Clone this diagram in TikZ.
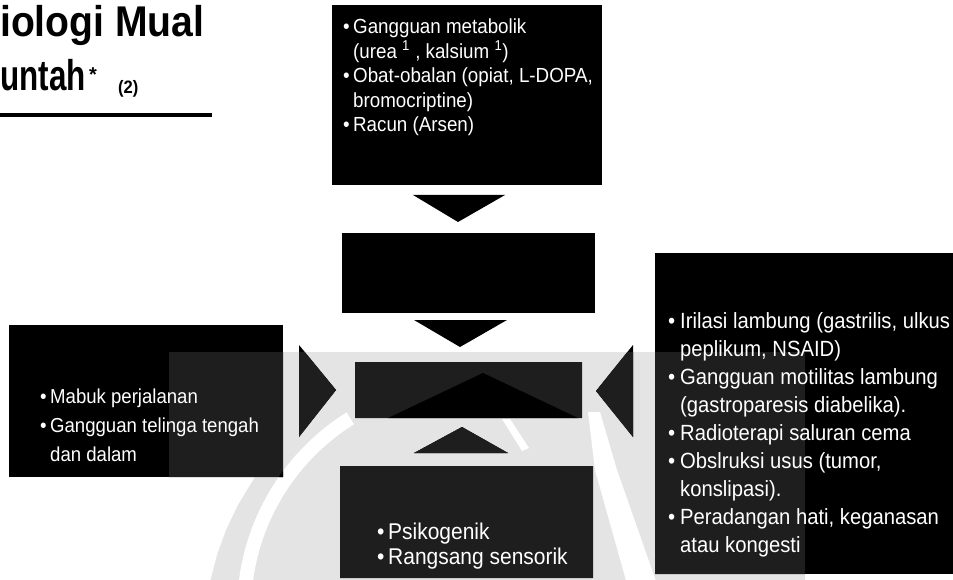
\documentclass[tikz,border=0pt]{standalone}
\usepackage{fontspec}
\setmainfont{Liberation Sans}
\newfontfamily\nar{Liberation Sans}[FakeStretch=0.92]
\usepackage{graphicx}
\definecolor{wmlight}{RGB}{228,228,228}
\definecolor{wmdark}{RGB}{30,30,30}
\newcommand\wmBase{(169,352) -- (805,352) -- (805,582) -- (210,582) -- (217,555) -- (226,530) -- (238,505) -- (255,477) -- (169,477) -- cycle}
\newcommand\wmLogo{plot[domain=185:238,samples=25] ({470+233*cos(\x)},{610+233*sin(\x)}) -- plot[domain=238:185,samples=25] ({470+219*cos(\x)},{610+219*sin(\x)}) -- cycle
 (588,412) -- (595,470) -- (627,584) -- (657,584) -- (617,470) -- (600,412) -- cycle
 (502,419) -- (510,419) -- (529,448) -- (522,451) -- cycle
 (388,418) -- (483,373) -- (578,418) -- cycle}
\newcommand\fTop{\nar\fontsize{20.4pt}{22pt}\selectfont}
\newcommand\fLeft{\nar\fontsize{20.2pt}{22pt}\selectfont}
\newcommand\fBot{\nar\fontsize{22.8pt}{24pt}\selectfont}
\newcommand\fRight{\nar\fontsize{22pt}{24pt}\selectfont}
\newcommand\bul[1]{\makebox[#1][l]{•}}
\begin{document}
\begin{tikzpicture}[x=1pt,y=-1pt,
  box/.style={fill=black, draw=none, inner sep=0pt, outer sep=0pt, anchor=north west},
  txt/.style={text=white, inner sep=0pt, anchor=base west},
  ttl/.style={text=black, inner sep=0pt, anchor=base west, font=\bfseries},
  blockarrow/.style={fill=black}]
\useasboundingbox (0,0) rectangle (953,580);
\fill[white] (0,0) rectangle (953,580);
% watermark on white background
\fill[wmlight] \wmBase;
\fill[white] \wmLogo;
% title
\node[ttl] (title1) at (0,37) {\fontsize{43pt}{46pt}\selectfont\scalebox{0.91}[1]{iologi Mual}};
\node[ttl] (title2) at (0,91) {\fontsize{43pt}{46pt}\selectfont\scalebox{0.73}[1]{untah}};
\node[ttl] (star) at (89,82) {\fontsize{20pt}{20pt}\selectfont *};
\node[ttl] (ref) at (118,94) {\nar\fontsize{18pt}{18pt}\selectfont (2)};
\draw[line width=4pt] (0,115) -- (212,115);
% boxes
\node[box, minimum width=270pt, minimum height=180pt] (topbox) at (332,5) {};
\node[box, minimum width=253pt, minimum height=80pt] (midbox) at (342,233) {};
\node[box, minimum width=227pt, minimum height=56pt] (cbox) at (355,362) {};
\node[box, minimum width=253pt, minimum height=112pt] (botbox) at (340,466) {};
\node[box, minimum width=274pt, minimum height=152pt] (leftbox) at (9,325) {};
\node[box, minimum width=300pt, minimum height=321pt] (rightbox) at (655,253) {};
% block arrows
\fill[blockarrow] (413,195) -- (505,195) -- (458,222) -- cycle;
\fill[blockarrow] (414,320) -- (507,320) -- (460,347) -- cycle;
\fill[blockarrow] (414,453) -- (508,453) -- (462,427) -- cycle;
\fill[blockarrow] (299,345) -- (299,437) -- (336,390) -- cycle;
\fill[blockarrow] (633,345) -- (633,437) -- (596,391) -- cycle;
% watermark over the black shapes
\begin{scope}
\clip (leftbox.north west) rectangle (leftbox.south east)
      (cbox.north west) rectangle (cbox.south east)
      (botbox.north west) rectangle (botbox.south east)
      (rightbox.north west) rectangle (rightbox.south east)
      (299,345) -- (299,437) -- (336,390) -- cycle
      (633,345) -- (633,437) -- (596,391) -- cycle
      (414,453) -- (508,453) -- (462,427) -- cycle;
\fill[wmdark] \wmBase;
\fill[black] \wmLogo;
\end{scope}
% top box text
\node[txt] (t1) at (343,34) {\fTop\bul{10pt}Gangguan metabolik};
\node[txt] (t2) at (353,58.5) {\fTop(urea \textsuperscript{1} , kalsium \textsuperscript{1})};
\node[txt] (t3) at (343,83) {\fTop\bul{10pt}Obat-obalan (opiat, L-DOPA,};
\node[txt] (t4) at (353,107.5) {\fTop bromocriptine)};
\node[txt] (t5) at (343,132) {\fTop\bul{10pt}Racun (Arsen)};
% left box text
\node[txt] (l1) at (40,403) {\fLeft\bul{10pt}Mabuk perjalanan};
\node[txt] (l2) at (40,432) {\fLeft\bul{10pt}Gangguan telinga tengah};
\node[txt] (l3) at (50,461) {\fLeft dan dalam};
% bottom box text
\node[txt] (b1) at (377,539) {\fBot\bul{11pt}Psikogenik};
\node[txt] (b2) at (377,564) {\fBot\bul{11pt}Rangsang sensorik};
% right box text
\node[txt] (r1) at (668,328) {\fRight\bul{12pt}Irilasi lambung (gastrilis, ulkus};
\node[txt] (r2) at (680,356) {\fRight peplikum, NSAID)};
\node[txt] (r3) at (668,384) {\fRight\bul{12pt}Gangguan motilitas lambung};
\node[txt] (r4) at (680,412) {\fRight(gastroparesis diabelika).};
\node[txt] (r5) at (668,440) {\fRight\bul{12pt}Radioterapi saluran cema};
\node[txt] (r6) at (668,468) {\fRight\bul{12pt}Obslruksi usus (tumor,};
\node[txt] (r7) at (680,496) {\fRight konslipasi).};
\node[txt] (r8) at (668,524) {\fRight\bul{12pt}Peradangan hati, keganasan};
\node[txt] (r9) at (680,552) {\fRight atau kongesti};
\end{tikzpicture}
\end{document}
